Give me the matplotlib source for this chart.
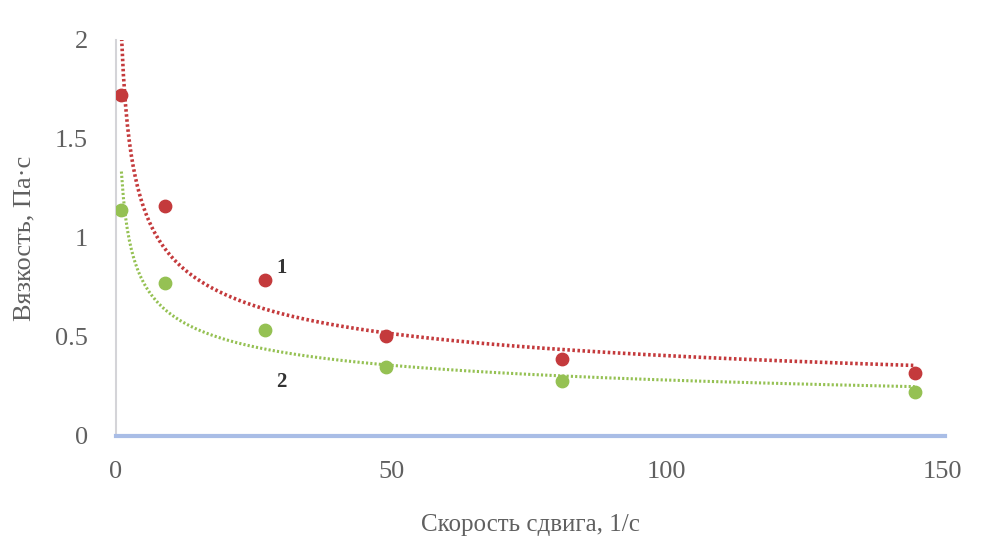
import numpy as np
import matplotlib.pyplot as plt

# Shear rate (1/s) and viscosity (Pa·s) for two samples
shear_rate = [1, 9, 27, 49, 81, 145]
viscosity_1 = [1.72, 1.16, 0.79, 0.505, 0.39, 0.32]
viscosity_2 = [1.14, 0.77, 0.535, 0.35, 0.28, 0.22]

y_ticks = [0, 0.5, 1, 1.5, 2]
y_tick_labels = ["0", "0.5", "1", "1.5", "2"]
x_ticks = [0, 50, 100, 150]

RED = "#c43a3c"
GREEN = "#95c153"
TEXT = "#606060"


def power_trend(x, y):
    """Power-law trend line y = a * x^b, fitted in log space."""
    b, ln_a = np.polyfit(np.log(x), np.log(y), 1)
    xs = np.linspace(min(x), max(x), 400)
    return xs, np.exp(ln_a) * xs ** b


def main():
    plt.rcParams["font.family"] = ["Liberation Serif", "DejaVu Serif"]

    fig = plt.figure(figsize=(9.99, 5.47), dpi=100)
    ax = fig.add_axes([0.116, 0.203, 0.83, 0.724])

    # Trend lines
    xs, ys = power_trend(shear_rate, viscosity_1)
    ax.plot(xs, ys, linestyle=(0, (0.7, 0.7)), color=RED, linewidth=2.6)
    xs, ys = power_trend(shear_rate, viscosity_2)
    ax.plot(xs, ys, linestyle=(0, (0.7, 0.7)), color=GREEN, linewidth=2.2)

    # Measured points
    ax.scatter(shear_rate, viscosity_1, s=80, color=RED, zorder=3)
    ax.scatter(shear_rate, viscosity_2, s=80, color=GREEN, zorder=3)

    # Curve numbers
    ax.text(30, 0.85, "1", fontsize=15, fontweight="bold", color="#333333",
            ha="center", va="center")
    ax.text(30, 0.27, "2", fontsize=15, fontweight="bold", color="#333333",
            ha="center", va="center")

    ax.set_xlim(0, 150.5)
    ax.set_ylim(0, 2)
    ax.set_xticks(x_ticks)
    ax.set_yticks(y_ticks)
    ax.set_yticklabels(y_tick_labels)
    ax.tick_params(length=0, labelsize=19, labelcolor=TEXT)
    ax.tick_params(axis="x", pad=18)
    ax.tick_params(axis="y", pad=20)

    for side in ("top", "right"):
        ax.spines[side].set_visible(False)
    ax.spines["left"].set_color("#d4d4d8")
    ax.spines["left"].set_linewidth(1.5)
    ax.spines["bottom"].set_color("#a9bde6")
    ax.spines["bottom"].set_linewidth(3)

    ax.set_xlabel("Скорость сдвига, 1/с", fontsize=18, color=TEXT, labelpad=22)
    ax.set_ylabel("Вязкость, Па·с", fontsize=19, color=TEXT, labelpad=14)

    fig.savefig("out.png", dpi=100)


if __name__ == "__main__":
    main()
